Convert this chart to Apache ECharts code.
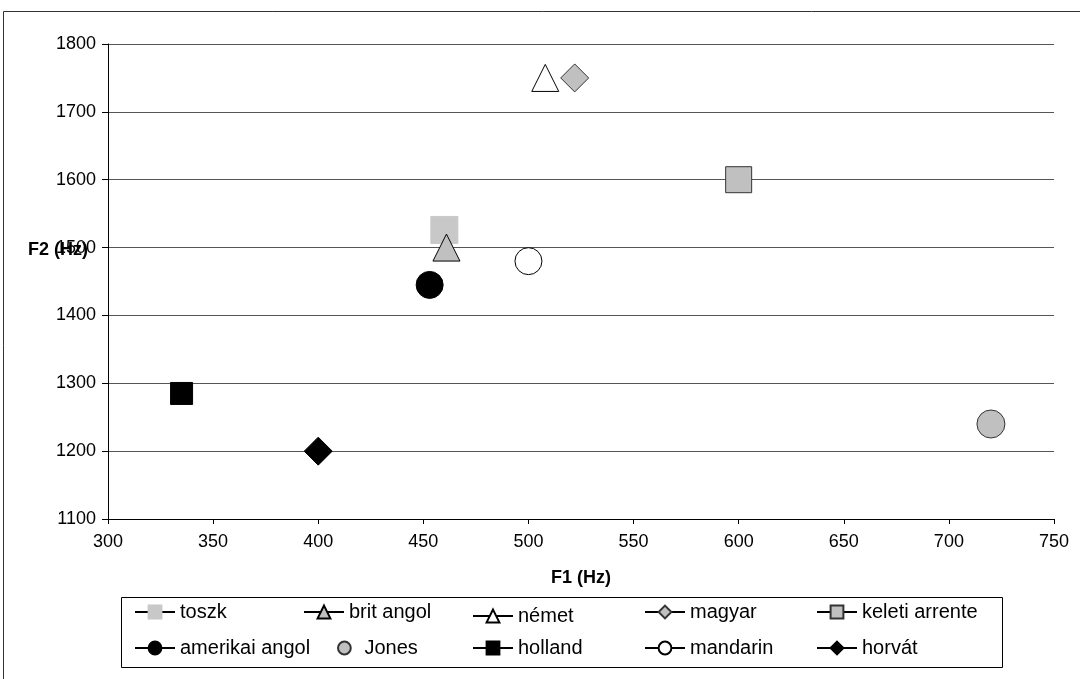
<!DOCTYPE html>
<html>
<head>
<meta charset="utf-8">
<script src="https://cdn.jsdelivr.net/npm/echarts@6/dist/echarts.min.js"></script>
<style>
html,body{margin:0;padding:0;background:#fff;}
#chart{width:1080px;height:679px;}
</style>
</head>
<body>
<div id="chart"></div>
<script>
// ---- data ----
const seriesNames = ['toszk', 'brit angol', 'német', 'magyar', 'keleti arrente',
                     'amerikai angol', 'Jones', 'holland', 'mandarin', 'horvát'];
const f1Values = [460, 461, 508, 522, 600, 453, 720, 335, 500, 400];
const f2Values = [1526, 1500, 1750, 1750, 1600, 1445, 1240, 1285, 1480, 1200];
const xAxisTitle = 'F1 (Hz)';
const yAxisTitle = 'F2 (Hz)';

// ---- marker styles (not data) ----
const markerStyles = [
  {symbol: 'rect',     size: 27, fill: '#c8c8c8', stroke: '#c8c8c8'},
  {symbol: 'triangle', size: 27, fill: '#c0c0c0', stroke: '#000'},
  {symbol: 'triangle', size: 27, fill: '#ffffff', stroke: '#000'},
  {symbol: 'diamond',  size: 28, fill: '#c0c0c0', stroke: '#333'},
  {symbol: 'rect',     size: 26, fill: '#c0c0c0', stroke: '#333'},
  {symbol: 'circle',   size: 27, fill: '#000000', stroke: '#000'},
  {symbol: 'circle',   size: 28, fill: '#c0c0c0', stroke: '#333'},
  {symbol: 'rect',     size: 22, fill: '#000000', stroke: '#000'},
  {symbol: 'circle',   size: 27, fill: '#ffffff', stroke: '#000'},
  {symbol: 'diamond',  size: 28, fill: '#000000', stroke: '#000'}
];
// legend layout (left of icon, row center y)
const legendLayout = [
  [134, 612], [303, 612], [472, 612], [644, 612], [816, 612],
  [134, 648], [337, 648], [472, 648], [644, 648], [816, 648]
];

const FONT = '"Liberation Sans", Arial, sans-serif';

const series = seriesNames.map((name, i) => ({
  name: name,
  type: 'line',
  data: [[f1Values[i], f2Values[i]]],
  symbol: markerStyles[i].symbol,
  symbolSize: markerStyles[i].size,
  showSymbol: true,
  lineStyle: {color: '#000', width: 1},
  itemStyle: {color: markerStyles[i].fill, borderColor: markerStyles[i].stroke, borderWidth: 1, opacity: 1},
  emphasis: {disabled: true},
  animation: false
}));

const legends = seriesNames.map((name, i) => {
  const isJones = name === 'Jones';
  const lg = {
    data: [name],
    left: legendLayout[i][0],
    top: legendLayout[i][1] - 10,
    itemWidth: isJones ? 14 : 40,
    itemHeight: 16,
    padding: 0,
    selectedMode: false,
    textStyle: {fontFamily: FONT, fontSize: 20, color: '#000', lineHeight: 20,
                padding: name === 'német' ? [8, 0, 0, 0] : [0, 0, 0, 0]},
    itemGap: 0
  };
  if (isJones) {
    lg.lineStyle = {opacity: 0, width: 0};
    lg.textStyle.padding = [0, 0, 0, 8];
  }
  return lg;
});

const plainNum = v => String(v);

const chart = echarts.init(document.getElementById('chart'), null, {renderer: 'canvas'});
chart.setOption({
  backgroundColor: '#fff',
  animation: false,
  grid: {left: 108, right: 26, top: 44, bottom: 160, containLabel: false, outerBoundsMode: 'none'},
  xAxis: {
    type: 'value', min: 300, max: 750, interval: 50,
    name: xAxisTitle, nameLocation: 'middle', nameGap: 50, nameMoveOverlap: false,
    nameTextStyle: {fontFamily: FONT, fontSize: 18, fontWeight: 'bold', color: '#000'},
    axisLine: {show: true, onZero: false, lineStyle: {color: '#000', width: 1}},
    axisTick: {show: true, length: 5, lineStyle: {color: '#000'}},
    axisLabel: {fontFamily: FONT, fontSize: 18, color: '#000', margin: 14, formatter: plainNum},
    splitLine: {show: false}
  },
  yAxis: {
    type: 'value', min: 1100, max: 1800, interval: 100,
    name: '{t|' + yAxisTitle + '}\n{s| }', nameLocation: 'middle', nameRotate: 0, nameGap: 20,
    nameMoveOverlap: false,
    nameTextStyle: {
      align: 'right', verticalAlign: 'middle',
      rich: {
        t: {fontFamily: FONT, fontSize: 18, fontWeight: 'bold', color: '#000', lineHeight: 20, align: 'right'},
        s: {fontSize: 10, height: 62, lineHeight: 62}
      }
    },
    axisLine: {show: true, onZero: false, lineStyle: {color: '#000', width: 1}},
    axisTick: {show: true, length: 6, lineStyle: {color: '#000'}},
    axisLabel: {fontFamily: FONT, fontSize: 18, color: '#000', margin: 12, formatter: plainNum},
    splitLine: {show: true, lineStyle: {color: '#555', width: 1}}
  },
  legend: legends,
  graphic: [
    {type: 'rect', shape: {x: 3.5, y: 11.5, width: 1100, height: 700},
     style: {fill: null, stroke: '#333', lineWidth: 1}, silent: true, z: -1},
    {type: 'rect', shape: {x: 121.5, y: 597.5, width: 881, height: 70},
     style: {fill: null, stroke: '#000', lineWidth: 1}, silent: true, z: -1}
  ],
  series: series
});
</script>
</body>
</html>
